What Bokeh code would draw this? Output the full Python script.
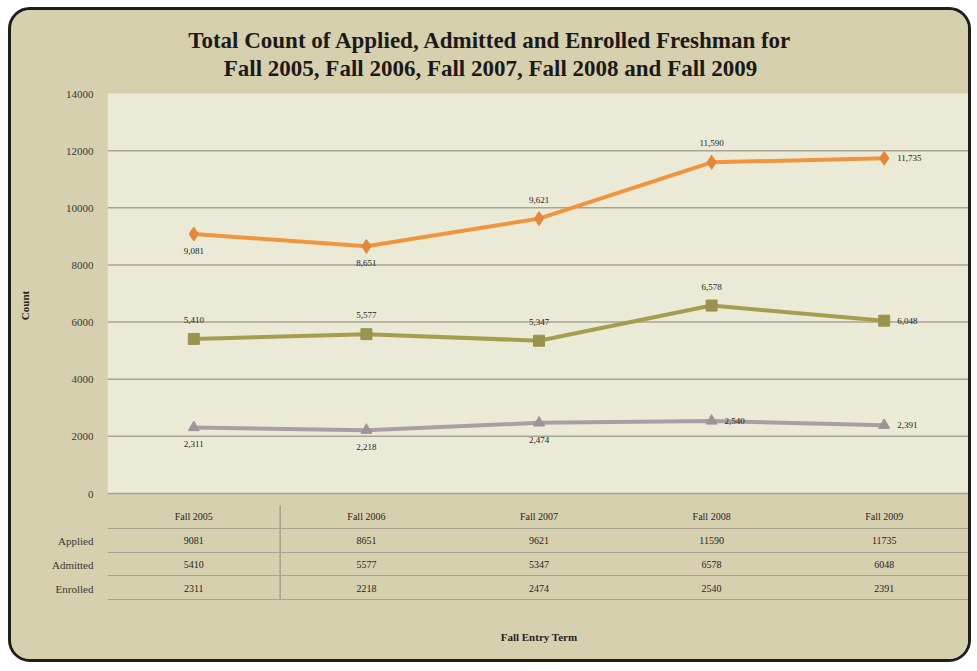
from bokeh.plotting import figure
from bokeh.models import Range1d, FixedTicker, BoxAnnotation, Span, ColumnDataSource
from bokeh.core.properties import value
from bokeh.embed import file_html
from bokeh.resources import INLINE

# ---------------- data ----------------
terms = ["Fall 2005", "Fall 2006", "Fall 2007", "Fall 2008", "Fall 2009"]
series_names = ["Applied", "Admitted", "Enrolled"]
applied = [9081, 8651, 9621, 11590, 11735]
admitted = [5410, 5577, 5347, 6578, 6048]
enrolled = [2311, 2218, 2474, 2540, 2391]
y_ticks = [0, 2000, 4000, 6000, 8000, 10000, 12000, 14000]
title_lines = ["Total Count of Applied, Admitted and Enrolled Freshman for",
               "Fall 2005, Fall 2006, Fall 2007, Fall 2008 and Fall 2009"]
x_title = "Fall Entry Term"
y_title = "Count"

# label placement per point (style only)
applied_pos = ["below", "below", "above", "above", "right"]
admitted_pos = ["above", "above", "above", "above", "right"]
enrolled_pos = ["below", "below", "below", "right", "right"]

# ---------------- layout (canvas px) ----------------
W, H = 963, 655
FL, FR, FB = 96, 959, 590       # frame left/right/bottom (frame top = 0)
CHART_TOP, ZERO = 83, 483       # canvas px of y = 14000 and y = 0
Y_TOP = y_ticks[-1]
ppu_y = (ZERO - CHART_TOP) / Y_TOP
y_min = -(FB - ZERO) / ppu_y
y_max = Y_TOP + CHART_TOP / ppu_y
x_min, x_max = -0.5, len(terms) - 0.5
ppu_x = (FR - FL) / (x_max - x_min)


def dx(px):
    return x_min + (px - FL) / ppu_x


def dy(py):
    return y_max - py / ppu_y


TAN = "#d6d0af"
CREAM = "#ebead7"
SERIF = "Liberation Serif"
INK = "#262420"

p = figure(width=W, height=H, x_range=Range1d(x_min, x_max), y_range=Range1d(y_min, y_max),
           output_backend="svg", toolbar_location=None,
           min_border_left=FL, min_border_right=W - FR, min_border_top=0, min_border_bottom=H - FB,
           background_fill_color=TAN, border_fill_color=TAN, outline_line_color=None)
p.styles = {"border": "3px solid #1e1e1e", "border-radius": "22px", "overflow": "hidden",
            "margin-left": "8px", "margin-top": "7px", "background-color": TAN}

# cream chart area (0 .. 14000)
p.add_layout(BoxAnnotation(bottom=0, top=Y_TOP, fill_color=CREAM, fill_alpha=1,
                           line_color=None, level="underlay"))
# horizontal gridlines drawn over the cream area
for t in y_ticks[:-1]:
    p.add_layout(Span(location=t, dimension="width", line_color="#aaa394", line_width=1.5,
                      level="underlay"))

# table row positions (data units) -- row names shown as y-axis labels
header_y = dy(506)
row_ys = [round(dy(530)), round(dy(554)), round(dy(578))]

# axes
p.yaxis.ticker = FixedTicker(ticks=y_ticks + row_ys)
p.yaxis.major_label_overrides = {ry: name for ry, name in zip(row_ys, series_names)}
p.yaxis.axis_line_color = None
p.yaxis.major_tick_line_color = None
p.yaxis.minor_tick_line_color = None
p.yaxis.major_label_text_font = SERIF
p.yaxis.major_label_text_font_size = "11px"
p.yaxis.major_label_text_color = "#3a3833"
p.yaxis.major_label_standoff = 8
p.yaxis.axis_label = y_title
p.yaxis.axis_label_text_font = SERIF
p.yaxis.axis_label_text_font_style = "bold"
p.yaxis.axis_label_text_font_size = "11px"
p.yaxis.axis_label_text_color = INK
p.yaxis.axis_label_standoff = 18

p.xaxis.ticker = FixedTicker(ticks=[])
p.xaxis.axis_line_color = None
p.xaxis.major_tick_line_color = None
p.xaxis.minor_tick_line_color = None
p.xaxis.axis_label = x_title
p.xaxis.axis_label_text_font = SERIF
p.xaxis.axis_label_text_font_style = "bold"
p.xaxis.axis_label_text_font_size = "11px"
p.xaxis.axis_label_text_color = INK
p.xaxis.axis_label_standoff = 30

p.xgrid.visible = False
p.ygrid.visible = False

# ---------------- series ----------------
styles = [
    (applied, applied_pos, "#f0943e", "#e4873a", "diamond", 14),
    (admitted, admitted_pos, "#a69e4f", "#9a9350", "square", 11),
    (enrolled, enrolled_pos, "#a99ea4", "#9d949a", "triangle", 11),
]
xs = list(range(len(terms)))
for vals, pos, lc, mc, mk, ms in styles:
    p.line(xs, vals, line_color=lc, line_width=4)
    p.scatter(xs, vals, marker=mk, size=ms, fill_color=mc, line_color=mc)
    xo, yo, al = [], [], []
    for ps in pos:
        if ps == "above":
            xo.append(0); yo.append(-19); al.append("center")
        elif ps == "below":
            xo.append(0); yo.append(17); al.append("center")
        else:
            xo.append(13); yo.append(0); al.append("left")
    src = ColumnDataSource(dict(x=xs, y=vals, t=[f"{v:,}" for v in vals], xo=xo, yo=yo, al=al))
    p.text(x="x", y="y", text="t", x_offset="xo", y_offset="yo", text_align="al",
           text_baseline="middle", text_font=value(SERIF), text_font_size="9px",
           text_color=INK, source=src)

# ---------------- data table ----------------
p.text(x=xs, y=[header_y] * len(xs), text=terms, text_align="center", text_baseline="middle",
       text_font=value(SERIF), text_font_size="10px", text_color=INK)
for vals, ry in zip([applied, admitted, enrolled], row_ys):
    p.text(x=xs, y=[ry] * len(xs), text=[str(v) for v in vals], text_align="center",
           text_baseline="middle", text_font=value(SERIF), text_font_size="10px", text_color=INK)
for ly in [518, 542, 565, 589]:
    p.add_layout(Span(location=dy(ly), dimension="width", line_color="#a8a190", line_width=1))
p.segment(x0=[0.5], y0=[dy(495)], x1=[0.5], y1=[dy(589)], line_color="#8f8978", line_width=1)

# ---------------- title ----------------
p.text(x=[dx(479)] * 2, y=[dy(30), dy(58)], text=title_lines, text_align="center",
       text_baseline="middle", text_font=value(SERIF), text_font_size="23px",
       text_font_style="bold", text_color="#1c1a17")

open("out.html", "w").write(file_html(p, INLINE))
